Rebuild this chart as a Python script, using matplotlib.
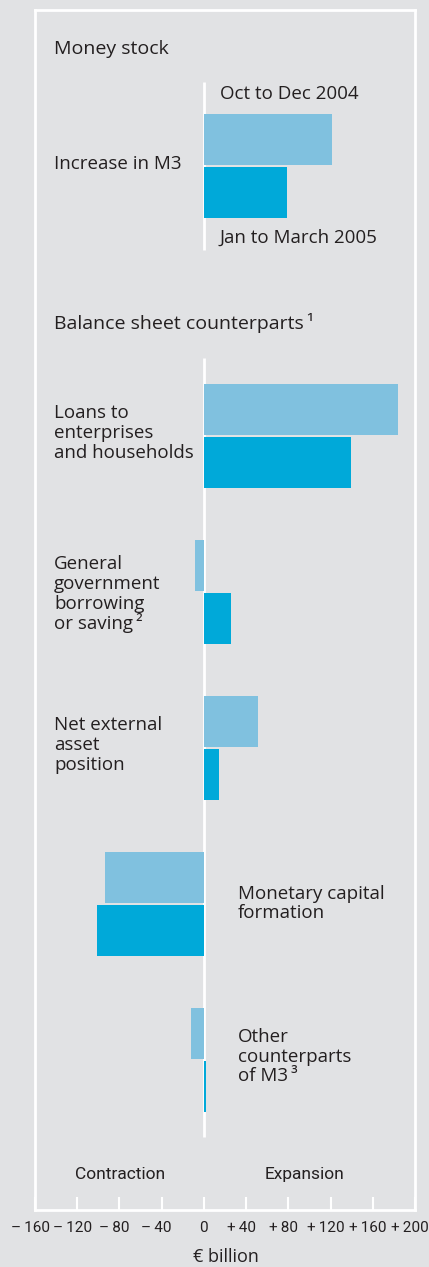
import matplotlib
matplotlib.use("Agg")
import matplotlib.pyplot as plt
from matplotlib.transforms import ScaledTranslation

# data (EUR billion)
money_labels = ["Increase in M3"]
money_q4 = [121]
money_q1 = [79]

cp_labels = ["Loans to\nenterprises\nand households",
             "General\ngovernment\nborrowing\nor saving\u2009\u00b2",
             "Net external\nasset\nposition",
             "Monetary capital\nformation",
             "Other\ncounterparts\nof M3\u2009\u00b3"]
cp_q4 = [184, -8, 51, -94, -12]
cp_q1 = [139, 26, 14, -101, 2]

series_names = ["Oct to Dec 2004", "Jan to March 2005"]
xticks = [-160, -120, -80, -40, 0, 40, 80, 120, 160, 200]
xticklabels = ["\u2013\u2009160", "\u2013\u2009120", "\u2013\u200980", "\u2013\u200940", "0",
               "+\u200940", "+\u200980", "+\u2009120", "+\u2009160", "+\u2009200"]

BG = "#e1e2e4"
LIGHT = "#80c1df"
DARK = "#00a9d9"
TXT = "#231f20"
W, H = 429, 1267
NARROW = ['Roboto', 'DejaVu Sans']

plt.rcParams['font.family'] = ['Open Sans', 'DejaVu Sans']

fig = plt.figure(figsize=(W / 100, H / 100), dpi=100, facecolor=BG)
ax = fig.add_axes([35 / W, (H - 1210) / H, 380 / W, 1200 / H], facecolor=BG)
ax.set_xlim(-160, 200)
ax.set_ylim(1210, 10)   # y in pixel rows from top

def ftxt(px, py, s, **kw):
    kw.setdefault("fontsize", 13.5)
    kw.setdefault("color", TXT)
    kw.setdefault("va", "baseline")
    fig.text(px / W, 1 - py / H, s, **kw)

bh = 51
off = 26.5
# money stock group
m_center = [166]
ax.barh([c - off for c in m_center], money_q4, height=bh, color=LIGHT, zorder=2)
ax.barh([c + off for c in m_center], money_q1, height=bh, color=DARK, zorder=2)
# counterparts
cp_center = [436 + 156 * i for i in range(len(cp_labels))]
ax.barh([c - off for c in cp_center], cp_q4, height=bh, color=LIGHT, zorder=2)
ax.barh([c + off for c in cp_center], cp_q1, height=bh, color=DARK, zorder=2)

# zero lines
ax.vlines(0, 82, 250, color="white", lw=2, zorder=1)
ax.vlines(0, 358, 1137, color="white", lw=2, zorder=1)

for s in ["top", "left", "right", "bottom"]:
    ax.spines[s].set_color("white")
    ax.spines[s].set_linewidth(2)
ax.set_yticks([])
ax.set_xticks(xticks)
ax.set_xticklabels(xticklabels, family=NARROW, fontsize=11, color=TXT)
ax.tick_params(axis="x", direction="in", length=9.5, width=1.5, color="white", pad=8)
# signed labels: keep the number on the tick, sign hangs left
shift = ScaledTranslation(-5 / 100, 0, fig.dpi_scale_trans)
for lab in ax.get_xticklabels():
    if lab.get_text() != "0":
        lab.set_transform(lab.get_transform() + shift)

# texts
ftxt(54, 54, "Money stock", fontsize=14)
ftxt(220, 99, series_names[0])
ftxt(54, 169, money_labels[0])
ftxt(220, 243, series_names[1])
ftxt(54, 329, "Balance sheet counterparts\u2009\u00b9", fontsize=14)

left_pos = [(54, 418), (54, 569), (54, 730)]
for (px, py), lab in zip(left_pos, cp_labels[:3]):
    for k, ln in enumerate(lab.split("\n")):
        ftxt(px, py + 20 * k, ln)
right_pos = [(238, 899), (238, 1042)]
for (px, py), lab in zip(right_pos, cp_labels[3:]):
    for k, ln in enumerate(lab.split("\n")):
        ftxt(px, py + 19.5 * k, ln)

ftxt(120, 1179, "Contraction", ha="center", fontsize=12.5, family=NARROW)
ftxt(304, 1179, "Expansion", ha="center", fontsize=12.5, family=NARROW)
ftxt(226, 1262, "\u20ac billion", ha="center", fontsize=13)

fig.savefig("out.png", dpi=100, facecolor=BG)
